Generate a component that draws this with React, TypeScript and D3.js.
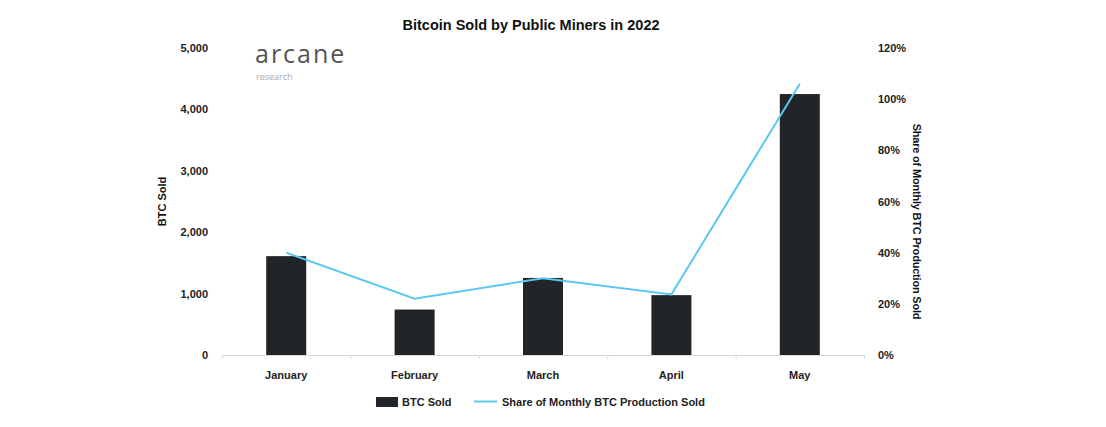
import * as React from 'react';
import * as d3 from 'd3';

const months = ['January', 'February', 'March', 'April', 'May'];
const btcSold = [1610, 740, 1255, 975, 4250];
const shareSold = [0.40, 0.22, 0.30, 0.237, 1.06];
const leftTicks = [0, 1000, 2000, 3000, 4000, 5000];
const rightTicks = [0, 0.2, 0.4, 0.6, 0.8, 1.0, 1.2];

const W = 1106;
const H = 427;
const M = { top: 48, right: 242, bottom: 72, left: 222 };
const FONT = '"Liberation Sans", Arial, sans-serif';

export default function App() {
  const x = d3.scaleBand().domain(months).range([M.left, W - M.right]).paddingInner(0).paddingOuter(0);
  const y = d3.scaleLinear().domain([0, 5000]).range([H - M.bottom, M.top]);
  const y2 = d3.scaleLinear().domain([0, 1.2]).range([H - M.bottom, M.top]);
  const barW = 40;
  const fmt = d3.format(',');
  const pct = d3.format('.0%');
  const line = d3.line<number>()
    .x((_, i) => (x(months[i]) as number) + x.bandwidth() / 2)
    .y((d) => y2(d));
  const base = H - M.bottom;
  const boundaries = months.map((m) => x(m) as number).concat([W - M.right]);

  return (
    <svg width={W} height={H} style={{ display: 'block', margin: '-8px' }} fontFamily={FONT}>
      <rect width={W} height={H} fill="#fff" />
      <text x={531} y={30} textAnchor="middle" fontSize={14.5} fontWeight="bold" fill="#111">
        Bitcoin Sold by Public Miners in 2022
      </text>
      <text x={255} y={63} fontSize={25} fill="#555" fontFamily='"Open Sans", "DejaVu Sans", sans-serif' fontWeight={400} letterSpacing={2}>arcane</text>
      <text x={256} y={80} fontSize={9} fill="#aaa" fontFamily='"Open Sans", "DejaVu Sans", sans-serif'>research</text>

      {leftTicks.map((t) => (
        <text key={t} x={208} y={y(t) + 4} textAnchor="end" fontSize={11} fontWeight="bold" fill="#222">
          {fmt(t)}
        </text>
      ))}
      {rightTicks.map((t) => (
        <text key={t} x={878} y={y2(t) + 4} textAnchor="start" fontSize={11} fontWeight="bold" fill="#222">
          {pct(t)}
        </text>
      ))}
      <text transform={`translate(166,${(base + M.top) / 2}) rotate(-90)`} textAnchor="middle" fontSize={11} fontWeight="bold" fill="#111">
        BTC Sold
      </text>
      <text transform={`translate(913,${(base + M.top) / 2 + 20}) rotate(90)`} textAnchor="middle" fontSize={11} fontWeight="bold" fill="#111" letterSpacing={-0.2}>
        Share of Monthly BTC Production Sold
      </text>

      {months.map((m, i) => (
        <rect key={m} x={(x(m) as number) + x.bandwidth() / 2 - barW / 2} y={y(btcSold[i])}
          width={barW} height={base - y(btcSold[i])} fill="#212428" />
      ))}

      <line x1={M.left} x2={W - M.right} y1={base + 0.5} y2={base + 0.5} stroke="#d9d9d9" />
      {boundaries.map((b, i) => (
        <line key={i} x1={b + 0.5} x2={b + 0.5} y1={base} y2={base + 4} stroke="#d9d9d9" />
      ))}
      {months.map((m) => (
        <text key={m} x={(x(m) as number) + x.bandwidth() / 2} y={base + 24} textAnchor="middle" fontSize={11} fontWeight="bold" fill="#222">
          {m}
        </text>
      ))}

      <path d={line(shareSold) as string} fill="none" stroke="#5bc8ef" strokeWidth={2} />

      <rect x={376} y={397} width={22} height={10} fill="#212428" />
      <text x={402} y={406} fontSize={11} fontWeight="bold" fill="#222">BTC Sold</text>
      <line x1={474} x2={497} y1={401.5} y2={401.5} stroke="#5bc8ef" strokeWidth={2} />
      <text x={502} y={406} fontSize={11} fontWeight="bold" fill="#222">Share of Monthly BTC Production Sold</text>
    </svg>
  );
}
